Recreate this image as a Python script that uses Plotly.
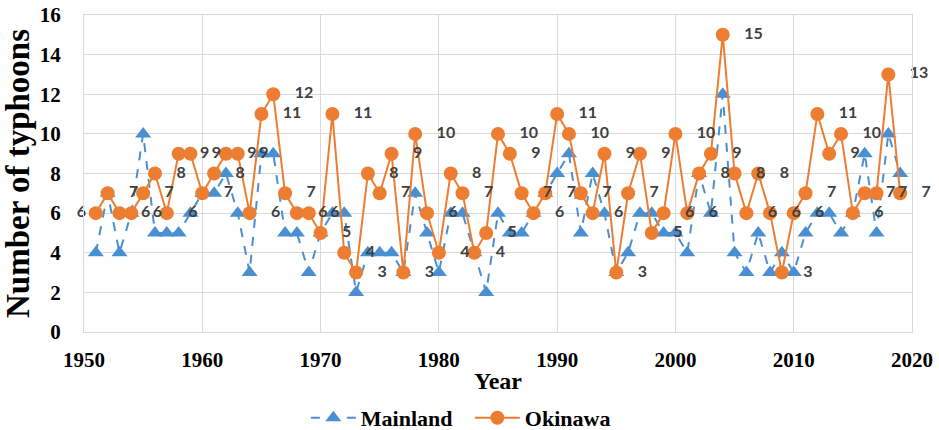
import plotly.graph_objects as go

years = list(range(1951, 2020))

mainland = [4, 7, 4, 6, 10, 5, 5, 5, 6, 7,
            7, 8, 6, 3, 9, 9, 5, 5, 3, 5,
            6, 6, 2, 4, 4, 4, 3, 7, 5, 3,
            6, 6, 4, 2, 6, 5, 5, 6, 7, 8,
            9, 5, 8, 6, 3, 4, 6, 6, 5, 5,
            4, 8, 6, 12, 4, 3, 5, 3, 4, 3,
            5, 6, 6, 5, 6, 9, 5, 10, 8]

okinawa = [6, 7, 6, 6, 7, 8, 6, 9, 9, 7,
           8, 9, 9, 6, 11, 12, 7, 6, 6, 5,
           11, 4, 3, 8, 7, 9, 3, 10, 6, 4,
           8, 7, 4, 5, 10, 9, 7, 6, 7, 11,
           10, 7, 6, 9, 3, 7, 9, 5, 6, 10,
           6, 8, 9, 15, 8, 6, 8, 6, 3, 6,
           7, 11, 9, 10, 6, 7, 7, 13, 7]

x_ticks = [1950, 1960, 1970, 1980, 1990, 2000, 2010, 2020]
y_ticks = [0, 2, 4, 6, 8, 10, 12, 14, 16]

pad = "\u00a0\u00a0\u00a0"
labels = [str(v) if i == 0 else pad + str(v) for i, v in enumerate(okinawa)]
positions = ["middle left" if i == 0 else "middle right" for i in range(len(okinawa))]

BLUE = "#4A8FD2"
ORANGE = "#ED7D31"
serif = "Liberation Serif"

fig = go.Figure()
fig.add_trace(go.Scatter(
    x=years, y=mainland, name="Mainland", mode="lines+markers",
    line=dict(color=BLUE, width=2, dash="dash"),
    marker=dict(symbol="triangle-up", size=14, color=BLUE),
    cliponaxis=False,
))
fig.add_trace(go.Scatter(
    x=years, y=okinawa, name="Okinawa", mode="lines+markers+text",
    line=dict(color=ORANGE, width=2),
    marker=dict(symbol="circle", size=14, color=ORANGE),
    text=labels, textposition=positions,
    textfont=dict(family="Lato", size=16, color="#404040", weight="bold"),
    cliponaxis=False,
))

fig.update_layout(
    width=939, height=430,
    margin=dict(l=84, r=27, t=15, b=98, autoexpand=False),
    paper_bgcolor="white", plot_bgcolor="white",
    showlegend=True,
    legend=dict(orientation="h", x=0.466, xanchor="center", y=-0.271, yanchor="middle",
                font=dict(family=serif, size=22, color="black", weight="bold"),
                itemwidth=45, entrywidth=104, entrywidthmode="pixels",
                traceorder="normal"),
)
fig.update_xaxes(
    range=[1950, 2020], tickvals=x_ticks, ticktext=[str(t) for t in x_ticks],
    showgrid=True, gridcolor="#D9D9D9", gridwidth=1,
    showline=True, linecolor="#D9D9D9", linewidth=1, mirror=True,
    zeroline=False, ticks="", ticklabelstandoff=9, automargin=False,
    tickfont=dict(family=serif, size=21, color="black", weight="bold"),
    title=dict(text="Year", standoff=0,
               font=dict(family=serif, size=24, color="black", weight="bold")),
)
fig.update_yaxes(
    range=[0, 16], tickvals=y_ticks,
    showgrid=True, gridcolor="#D9D9D9", gridwidth=1,
    showline=True, linecolor="#D9D9D9", linewidth=1, mirror=True,
    zeroline=False, ticks="", ticklabelstandoff=18, automargin=False,
    tickfont=dict(family=serif, size=21, color="black", weight="bold"),
    title=dict(text="Number of typhoons", standoff=6,
               font=dict(family=serif, size=33, color="black", weight="bold")),
)

fig.write_html("out.html")
